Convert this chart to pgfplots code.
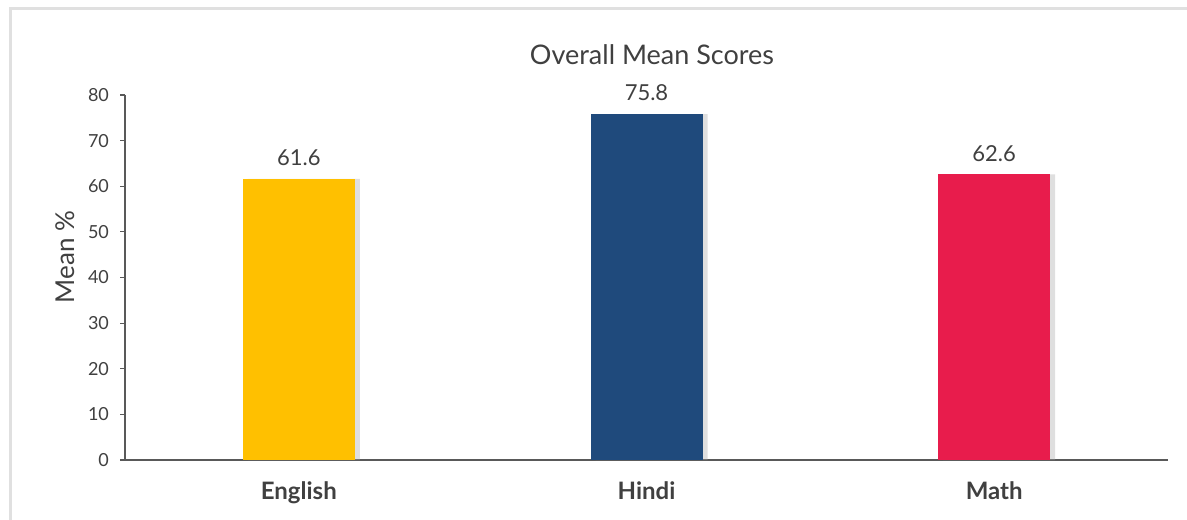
\documentclass[border=0pt]{standalone}
\usepackage{pgfplots}
\pgfplotsset{compat=1.18}
\usepackage{fontspec}
\setmainfont{Lato}
\definecolor{cEng}{HTML}{FFC000}
\definecolor{cHin}{HTML}{1F4A7C}
\definecolor{cMat}{HTML}{E81C4C}
\definecolor{txt}{HTML}{404040}
\definecolor{axc}{HTML}{595959}
\begin{document}
\begin{tikzpicture}[x=0.5pt,y=0.5pt]
\path[fill=white] (0,0) rectangle (1187,519);
\coordinate (O) at (125,59);
\begin{scope}
\clip (0,0) rectangle (1187,519);
\draw[color=black!12, line width=1.5pt] (10,-5) -- (10,510) -- (1192,510);
\end{scope}
\node[font=\fontsize{13.5}{15}\selectfont, text=txt] at (652,464) {Overall Mean Scores};
\node[font=\fontsize{13}{15}\selectfont, text=txt, rotate=90] at (65,262) {Mean \%};
\begin{axis}[
  at={(O)}, anchor=south west,
  scale only axis, width=521.5pt, height=182.5pt,
  xmin=-0.5, xmax=2.5, ymin=0, ymax=80,
  ytick={0,10,...,80},
  xtick={0,1,2}, xticklabels={English,Hindi,Math},
  axis x line*=bottom, axis y line*=left,
  axis line style={color=axc, line width=0.7pt},
  y axis line style={-}, x axis line style={-},
  tick align=outside, major tick length=2.5pt,
  x tick style={draw=none},
  y tick style={color=axc, line width=0.6pt},
  yticklabel style={font=\fontsize{9}{10}\selectfont, text=txt, xshift=-2pt},
  xticklabel style={font=\bfseries\fontsize{12}{14}\selectfont, text=txt, yshift=-5pt},
  /pgf/number format/assume math mode=true,
  ybar, bar width=56pt, bar shift=0pt,
  enlarge x limits=false,
  clip=false,
]
\addplot[fill=black!35, draw=none, opacity=0.35, bar shift=2.5pt] coordinates {(0,61.6) (1,75.8) (2,62.6)};
\addplot[fill=cEng, draw=none, nodes near coords, nodes near coords style={font=\fontsize{11}{12}\selectfont, text=txt, yshift=3pt}] coordinates {(0,61.6)};
\addplot[fill=cHin, draw=none, nodes near coords, nodes near coords style={font=\fontsize{11}{12}\selectfont, text=txt, yshift=3pt}] coordinates {(1,75.8)};
\addplot[fill=cMat, draw=none, nodes near coords, nodes near coords style={font=\fontsize{11}{12}\selectfont, text=txt, yshift=3pt}] coordinates {(2,62.6)};
\end{axis}
\end{tikzpicture}
\end{document}
